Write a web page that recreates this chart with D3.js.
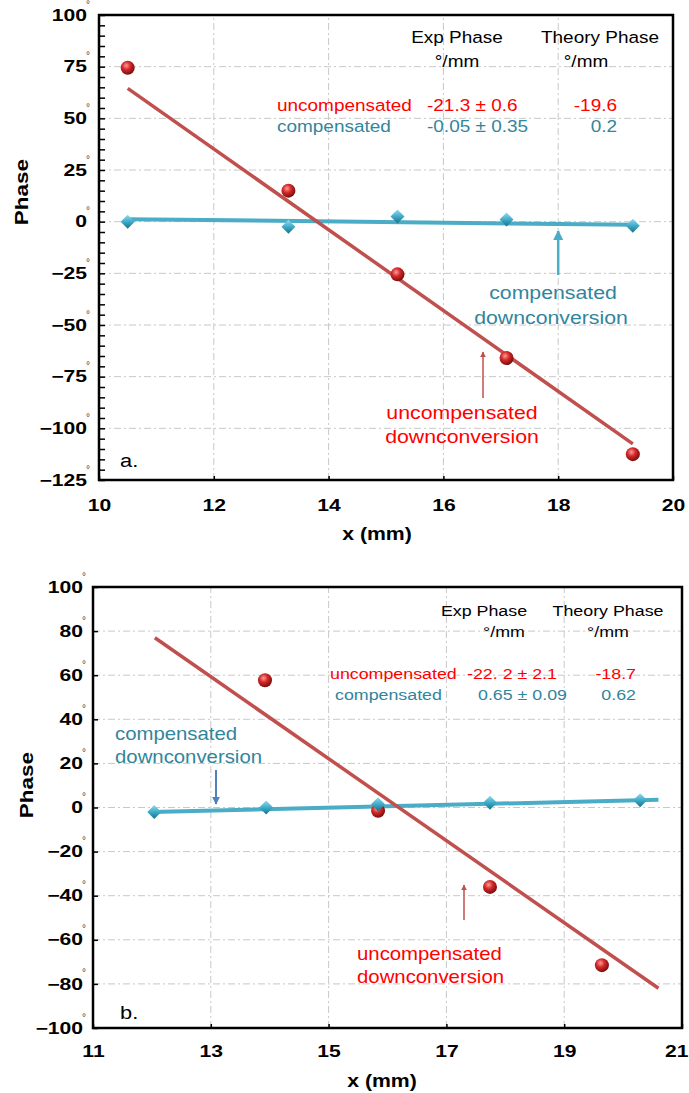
<!DOCTYPE html>
<html lang="en">
<head>
<meta charset="UTF-8">
<title>Phase vs x</title>
<script src="https://cdnjs.cloudflare.com/ajax/libs/d3/7.8.5/d3.min.js"></script>
<style>
  body { margin: 0; background: #fff; }
  svg text { font-family: "Liberation Sans", Arial, sans-serif; }
</style>
</head>
<body>
<div id="chart"></div>
<script>
// ---- data ----
// panel a
var a_x = [10.5, 13.3, 15.2, 17.1, 19.3];
var a_uncomp = [74.5, 15, -25.5, -66, -112.5];
var a_comp = [0, -2.5, 2.5, 1, -2];
var a_fitX = [10.5, 19.3];
var a_uncompFit = [64.5, -107.5];
var a_compFit = [1.2, -1.5];
var a_xTicks = [10, 12, 14, 16, 18, 20];
var a_yTicks = [100, 75, 50, 25, 0, -25, -50, -75, -100, -125];
var a_table = [["uncompensated", "-21.3 \u00b1 0.6", "-19.6"], ["compensated", "-0.05 \u00b1 0.35", "0.2"]];

// panel b
var b_uncompX = [13.92, 15.84, 17.74, 19.64];
var b_uncomp = [57.7, -1.5, -36, -71.5];
var b_compX = [12.04, 13.94, 15.84, 17.74, 20.29];
var b_comp = [-2, 0, 1.5, 2.2, 3.3];
var b_uncompFitX = [12.05, 20.6];
var b_uncompFit = [77, -82];
var b_compFitX = [12.0, 20.6];
var b_compFit = [-2, 3.5];
var b_xTicks = [11, 13, 15, 17, 19, 21];
var b_yTicks = [100, 80, 60, 40, 20, 0, -20, -40, -60, -80, -100];
var b_table = [["uncompensated", "-22. 2 \u00b1 2.1", "-18.7"], ["compensated", "0.65 \u00b1 0.09", "0.62"]];

var RED_LINE = "#c0504d", TEAL_LINE = "#4bacc6", RED_TXT = "#ff0000", TEAL_TXT = "#31859c";
var SX = 1.15;      // text in the original is a bit wide
var TICK_SX = 1.32;

var svg = d3.select("#chart").append("svg").attr("width", 689).attr("height", 1093);

// gradients / markers
var defs = svg.append("defs");
var rg = defs.append("radialGradient").attr("id", "ball").attr("cx", "40%").attr("cy", "35%").attr("r", "65%");
rg.append("stop").attr("offset", "0%").attr("stop-color", "#ff9a9a");
rg.append("stop").attr("offset", "45%").attr("stop-color", "#d42a2a");
rg.append("stop").attr("offset", "100%").attr("stop-color", "#7a0c0c");
var tg = defs.append("linearGradient").attr("id", "dia").attr("x1", "0").attr("y1", "0").attr("x2", "0").attr("y2", "1");
tg.append("stop").attr("offset", "0%").attr("stop-color", "#8fdcf0");
tg.append("stop").attr("offset", "55%").attr("stop-color", "#38a6c4");
tg.append("stop").attr("offset", "100%").attr("stop-color", "#1d6f86");
function arrowDef(id, col) {
  defs.append("marker").attr("id", id).attr("viewBox", "0 0 10 10").attr("refX", 9).attr("refY", 5)
    .attr("markerWidth", 4).attr("markerHeight", 4).attr("orient", "auto")
    .append("path").attr("d", "M0,0L10,5L0,10z").attr("fill", col);
}
arrowDef("arrTeal", TEAL_LINE);
arrowDef("arrRed", RED_LINE);
arrowDef("arrBlue", "#4f81bd");

// text, stretched a little sideways like the original
function txt(x, y, s, opt) {
  opt = opt || {};
  return svg.append("text")
    .attr("transform", "translate(" + x + "," + y + ") scale(" + (opt.sx || SX) + ",1)")
    .attr("font-size", opt.size || 17)
    .attr("font-weight", opt.bold ? "bold" : "normal")
    .attr("fill", opt.color || "#000")
    .attr("text-anchor", opt.anchor || "start")
    .text(s);
}

function panel(cfg) {
  var x = d3.scaleLinear().domain(cfg.xDom).range(cfg.xRange);
  var y = d3.scaleLinear().domain(cfg.yDom).range(cfg.yRange);
  var g = svg.append("g");

  // grid
  g.selectAll(".hg").data(cfg.yTicks.filter(function(d) { return d != cfg.yDom[0] && d != cfg.yDom[1]; }))
    .enter().append("line")
    .attr("x1", cfg.xRange[0]).attr("x2", cfg.xRange[1])
    .attr("y1", function(d) { return y(d); }).attr("y2", function(d) { return y(d); })
    .attr("stroke", "#c8c8c8").attr("stroke-dasharray", "7,3,2,3");
  g.selectAll(".vg").data(cfg.xTicks.filter(function(d) { return d != cfg.xDom[0] && d != cfg.xDom[1]; }))
    .enter().append("line")
    .attr("y1", cfg.yRange[0]).attr("y2", cfg.yRange[1])
    .attr("x1", function(d) { return x(d); }).attr("x2", function(d) { return x(d); })
    .attr("stroke", "#c8c8c8").attr("stroke-dasharray", "7,3,2,3");

  // y axis: inner minor ticks
  if (cfg.minorStep) {
    g.append("g").attr("transform", "translate(" + cfg.xRange[0] + ",0)")
      .call(d3.axisLeft(y).tickValues(d3.range(cfg.yDom[0], cfg.yDom[1] + 0.1, cfg.minorStep)).tickSize(-6).tickFormat(""))
      .call(function(s) { s.select(".domain").remove(); s.selectAll("line").attr("stroke-width", 1.5); });
  }
  var ya = g.append("g").attr("transform", "translate(" + cfg.xRange[0] + ",0)")
    .call(d3.axisLeft(y).tickValues(cfg.yTicks).tickSize(cfg.minorStep ? 0 : -5).tickPadding(cfg.yPad).tickFormat(d3.format("d")));
  ya.select(".domain").remove();
  ya.selectAll("line").attr("stroke-width", 1.5);
  ya.selectAll("text").attr("font-size", 16).attr("font-weight", "bold").attr("fill", "#000")
    .attr("font-family", "'Liberation Sans', Arial, sans-serif")
    .attr("x", -cfg.yPad / TICK_SX).attr("transform", "scale(" + TICK_SX + ",1)");
  // small degree marks up and right of each label
  ya.selectAll(".tick").append("text").attr("x", -cfg.yPad + 3).attr("y", -8)
    .attr("font-size", 10).attr("fill", "#444").attr("font-family", "'Liberation Sans', Arial, sans-serif").text("\u00b0");

  // x axis
  var xa = g.append("g").attr("transform", "translate(0," + cfg.yRange[0] + ")")
    .call(d3.axisBottom(x).tickValues(cfg.xTicks).tickSize(-4).tickPadding(cfg.xPad).tickFormat(d3.format("d")));
  xa.select(".domain").remove();
  xa.selectAll("line").attr("stroke-width", 1.5);
  xa.selectAll("text").attr("font-size", 16).attr("font-weight", "bold").attr("fill", "#000")
    .attr("font-family", "'Liberation Sans', Arial, sans-serif")
    .attr("transform", "scale(" + TICK_SX + ",1)");
  if (cfg.lastEnd) {
    xa.selectAll(".tick").filter(function(d, i) { return i == cfg.xTicks.length - 1; }).select("text")
      .attr("text-anchor", "end").attr("x", (689 - cfg.xRange[1] - 1) / TICK_SX);
  }

  // frame
  g.append("rect").attr("x", cfg.xRange[0]).attr("y", cfg.yRange[1])
    .attr("width", cfg.xRange[1] - cfg.xRange[0]).attr("height", cfg.yRange[0] - cfg.yRange[1])
    .attr("fill", "none").attr("stroke", "#000").attr("stroke-width", 2.5);

  // axis titles
  svg.append("text").attr("transform", "translate(" + cfg.phaseX + "," + cfg.phaseY + ") rotate(-90) scale(1.25,1)")
    .attr("text-anchor", "middle").attr("font-size", 18).attr("font-weight", "bold").text("Phase");
  txt(cfg.xTitleX, cfg.xTitleY, "x (mm)", { bold: true, size: 18, anchor: "middle", sx: 1.18 });

  var line = d3.line().x(function(d) { return x(d[0]); }).y(function(d) { return y(d[1]); });

  // fit lines
  g.append("path").attr("d", line(d3.zip(cfg.compFitX, cfg.compFit)))
    .attr("stroke", TEAL_LINE).attr("stroke-width", 4).attr("fill", "none");
  g.append("path").attr("d", line(d3.zip(cfg.uncompFitX, cfg.uncompFit)))
    .attr("stroke", RED_LINE).attr("stroke-width", 3.5).attr("fill", "none");

  // red spheres
  g.selectAll(".ball").data(d3.zip(cfg.uncompX, cfg.uncomp)).enter().append("circle")
    .attr("cx", function(d) { return x(d[0]); }).attr("cy", function(d) { return y(d[1]); })
    .attr("r", 7).attr("fill", "url(#ball)");

  // teal diamonds
  g.selectAll(".dia").data(d3.zip(cfg.compX, cfg.comp)).enter().append("path")
    .attr("transform", function(d) { return "translate(" + x(d[0]) + "," + y(d[1]) + ")"; })
    .attr("d", "M0,-7L7,0L0,7L-7,0Z").attr("fill", "url(#dia)");

  return { x: x, y: y };
}

// ---------- panel a ----------
var A = panel({
  xDom: [10, 20], xRange: [99, 673], yDom: [-125, 100], yRange: [480, 15],
  xTicks: a_xTicks, yTicks: a_yTicks, minorStep: 5, yPad: 12, xPad: 20,
  uncompX: a_x, uncomp: a_uncomp, compX: a_x, comp: a_comp,
  uncompFitX: a_fitX, uncompFit: a_uncompFit, compFitX: a_fitX, compFit: a_compFit,
  phaseX: 28, phaseY: 192, xTitleX: 377, xTitleY: 540
});

txt(457, 43, "Exp Phase", { anchor: "middle", size: 16.5 });
txt(457, 67, "\u00b0/mm", { anchor: "middle", size: 16.5 });
txt(600, 43, "Theory Phase", { anchor: "middle", size: 16.5 });
txt(586, 67, "\u00b0/mm", { anchor: "middle", size: 16.5 });
a_table.forEach(function(r, i) {
  var col = i == 0 ? RED_TXT : TEAL_TXT;
  txt(277, 111 + i * 21, r[0], { color: col, size: 16.5 });
  txt(427, 111 + i * 21, r[1], { color: col, size: 16.5 });
  txt(617, 111 + i * 21, r[2], { color: col, anchor: "end", size: 16.5 });
});
txt(553, 299, "compensated", { color: TEAL_TXT, anchor: "middle", size: 18.5 });
txt(551, 324, "downconversion", { color: TEAL_TXT, anchor: "middle", size: 18.5 });
txt(462, 419, "uncompensated", { color: RED_TXT, anchor: "middle", size: 18.5 });
txt(462, 443, "downconversion", { color: RED_TXT, anchor: "middle", size: 18.5 });
svg.append("line").attr("x1", A.x(18)).attr("x2", A.x(18)).attr("y1", 275).attr("y2", 231)
  .attr("stroke", TEAL_LINE).attr("stroke-width", 2.5).attr("marker-end", "url(#arrTeal)");
svg.append("line").attr("x1", 483).attr("x2", 483).attr("y1", 398).attr("y2", 352)
  .attr("stroke", RED_LINE).attr("stroke-width", 1.5).attr("marker-end", "url(#arrRed)");
txt(120, 467, "a.", { size: 19 });

// ---------- panel b ----------
var B = panel({
  xDom: [11, 21], xRange: [93, 682], yDom: [-100, 100], yRange: [1028, 587],
  xTicks: b_xTicks, yTicks: b_yTicks, minorStep: 0, yPad: 10, xPad: 18, lastEnd: true,
  uncompX: b_uncompX, uncomp: b_uncomp, compX: b_compX, comp: b_comp,
  uncompFitX: b_uncompFitX, uncompFit: b_uncompFit, compFitX: b_compFitX, compFit: b_compFit,
  phaseX: 33, phaseY: 785, xTitleX: 382, xTitleY: 1087
});

txt(484, 616, "Exp Phase", { anchor: "middle", size: 15.5 });
txt(504, 637, "\u00b0/mm", { anchor: "middle", size: 15.5 });
txt(608, 616, "Theory Phase", { anchor: "middle", size: 15.5 });
txt(608, 637, "\u00b0/mm", { anchor: "middle", size: 15.5 });
b_table.forEach(function(r, i) {
  var col = i == 0 ? RED_TXT : TEAL_TXT;
  txt(330 + i * 5, 679 + i * 21, r[0], { color: col, size: 15.5 });
  txt(467 + i * 11, 679 + i * 21, r[1], { color: col, size: 15.5 });
  txt(636, 679 + i * 21, r[2], { color: col, size: 15.5, anchor: "end" });
});
txt(115, 740, "compensated", { color: TEAL_TXT, size: 17.7 });
txt(115, 763, "downconversion", { color: TEAL_TXT, size: 17.7 });
txt(357, 960, "uncompensated", { color: RED_TXT, size: 17.7 });
txt(357, 983, "downconversion", { color: RED_TXT, size: 17.7 });
svg.append("line").attr("x1", 216).attr("x2", 216).attr("y1", 770).attr("y2", 804)
  .attr("stroke", "#4f81bd").attr("stroke-width", 2).attr("marker-end", "url(#arrBlue)");
svg.append("line").attr("x1", 464).attr("x2", 464).attr("y1", 920).attr("y2", 885)
  .attr("stroke", RED_LINE).attr("stroke-width", 1.5).attr("marker-end", "url(#arrRed)");
txt(120, 1019, "b.", { size: 19 });
</script>
</body>
</html>
